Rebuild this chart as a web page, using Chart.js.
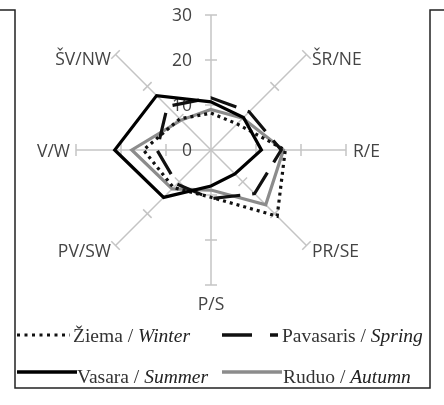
<!DOCTYPE html>
<html>
<head>
<meta charset="utf-8">
<script src="https://cdn.jsdelivr.net/npm/chart.js@4.4.1/dist/chart.umd.min.js"></script>
<style>
  html, body { margin: 0; padding: 0; background: #fff; }
  #wrap { position: relative; width: 444px; height: 405px; overflow: hidden; }
  #chart { position: absolute; left: 0; top: 0; }
  #overlay { position: absolute; left: 0; top: 0; pointer-events: none; }
  #overlay text { font-family: "Liberation Serif", "Times New Roman", serif; font-size: 19.5px; fill: #333; }
  #overlay tspan.it { font-style: italic; fill: #222; }
</style>
</head>
<body>
<div id="wrap">
  <canvas id="chart" width="444" height="405"></canvas>
  <svg id="overlay" width="444" height="405">
    <!-- frame (top edge of the box is cut in the original, only the stubs remain) -->
    <g stroke="#222" stroke-width="1.5" fill="none">
      <path d="M0 10 H15 V388 H430 V10 H444" />
    </g>
    <!-- legend samples -->
    <line x1="17" y1="335" x2="70" y2="335" stroke="#111" stroke-width="3" stroke-dasharray="3 4.5" />
    <line x1="222" y1="335" x2="252" y2="335" stroke="#111" stroke-width="3.5" />
    <line x1="270" y1="335" x2="278" y2="335" stroke="#111" stroke-width="3.5" />
    <line x1="17" y1="372" x2="77" y2="372" stroke="#000" stroke-width="3.5" />
    <line x1="222" y1="372" x2="282" y2="372" stroke="#8c8c8c" stroke-width="3.5" />
    <text x="73" y="341.5">Žiema / <tspan class="it">Winter</tspan></text>
    <text x="282" y="341.5">Pavasaris / <tspan class="it">Spring</tspan></text>
    <text x="77" y="383">Vasara / <tspan class="it">Summer</tspan></text>
    <text x="283" y="383">Ruduo / <tspan class="it">Autumn</tspan></text>
  </svg>
</div>
<script>
// directions clockwise from north; the north label is cut off in the original
const directions = ["Š/N", "ŠR/NE", "R/E", "PR/SE", "P/S", "PV/SW", "V/W", "ŠV/NW"];
const tickValues = [0, 10, 20, 30];

// wind frequency by direction
const winter = [8.2, 8.2, 16.5, 20.8, 10.5, 11.8, 15.0, 9.8];
const spring = [11.6, 12.0, 15.6, 13.7, 10.8, 10.7, 12.0, 13.7];
const summer = [10.7, 10.2, 11.2, 7.5, 8.0, 14.9, 21.4, 17.1];
const autumn = [9.0, 10.0, 16.1, 17.2, 8.9, 12.2, 17.6, 9.4];

const spokeColor = "#c4c4c4";
const labelColor = "#444";
const labelFont = '17.5px "Open Sans", sans-serif';

// spoke ticks, value labels and direction labels
const radarDecor = {
  id: "radarDecor",
  beforeDatasetsDraw(chart) {
    const r = chart.scales.r;
    const ctx = chart.ctx;
    ctx.save();

    ctx.strokeStyle = spokeColor;
    ctx.lineWidth = 1.5;
    for (let i = 0; i < directions.length; i++) {
      const a = r.getIndexAngle(i) - Math.PI / 2;
      const nx = -Math.sin(a) * 6, ny = Math.cos(a) * 6;
      tickValues.slice(1).forEach((v) => {
        const p = r.getPointPositionForValue(i, v);
        ctx.beginPath();
        ctx.moveTo(p.x + nx, p.y + ny);
        ctx.lineTo(p.x - nx, p.y - ny);
        ctx.stroke();
      });
    }

    ctx.font = labelFont;
    ctx.fillStyle = labelColor;
    ctx.textAlign = "right";
    ctx.textBaseline = "alphabetic";
    tickValues.forEach((v) => {
      const y = r.yCenter - r.getDistanceFromCenterForValue(v);
      ctx.fillText(String(v), r.xCenter - 19, y + 6);
    });

    for (let i = 1; i < directions.length; i++) {
      const p = r.getPointPosition(i, r.drawingArea + 5);
      const a = r.getIndexAngle(i) - Math.PI / 2;
      const c = Math.cos(a), s = Math.sin(a);
      ctx.textAlign = c > 0.1 ? "left" : c < -0.1 ? "right" : "center";
      let dy = 7;
      if (s < -0.1) dy = 14;
      else if (s > 0.9) dy = 20;
      else if (s > 0.1) dy = 8;
      ctx.fillText(directions[i], p.x + (c > 0.1 ? 2 : c < -0.1 ? -1 : 0), p.y + dy);
    }
    ctx.restore();
  }
};

const line = (label, data, color, dash, order) => ({
  label, data, order,
  borderColor: color,
  borderWidth: 3.2,
  borderDash: dash,
  fill: false,
  pointRadius: 0,
  tension: 0
});

new Chart(document.getElementById("chart"), {
  type: "radar",
  data: {
    labels: directions,
    datasets: [
      line("Žiema / Winter", winter, "#111", [3, 4], 3),
      line("Pavasaris / Spring", spring, "#111", [27, 12], 2),
      line("Vasara / Summer", summer, "#000", [], 1),
      line("Ruduo / Autumn", autumn, "#8c8c8c", [], 4)
    ]
  },
  options: {
    responsive: false,
    animation: false,
    layout: { padding: { left: 76, right: 98, top: 15, bottom: 120 } },
    plugins: { legend: { display: false }, tooltip: { enabled: false } },
    scales: {
      r: {
        min: 0,
        max: 30,
        ticks: { stepSize: 10, display: false },
        grid: { display: false },
        angleLines: { color: spokeColor, lineWidth: 1.5 },
        pointLabels: { display: false }
      }
    }
  },
  plugins: [radarDecor]
});
</script>
</body>
</html>
